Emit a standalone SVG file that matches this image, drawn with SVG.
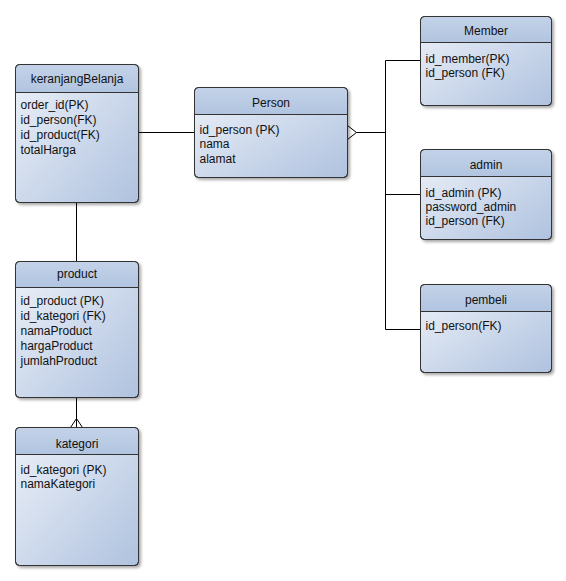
<svg xmlns="http://www.w3.org/2000/svg" width="566" height="581" viewBox="0 0 566 581">
  <defs>
    <linearGradient id="bodyFill" x1="0" y1="0" x2="1" y2="1">
      <stop offset="0" stop-color="#eef2f9"/>
      <stop offset="1" stop-color="#afc2df"/>
    </linearGradient>
    <linearGradient id="headFill" x1="0" y1="0" x2="0" y2="1">
      <stop offset="0" stop-color="#c3d2e8"/>
      <stop offset="1" stop-color="#b1c4e0"/>
    </linearGradient>
    <filter id="shadow" x="-10%" y="-10%" width="125%" height="125%">
      <feGaussianBlur in="SourceAlpha" stdDeviation="1.5"/>
      <feOffset dx="2" dy="2" result="b"/>
      <feComponentTransfer><feFuncA type="linear" slope="0.35"/></feComponentTransfer>
      <feMerge><feMergeNode/><feMergeNode in="SourceGraphic"/></feMerge>
    </filter>
  </defs>
  <style>
    .body { fill: url(#bodyFill); stroke: #333; stroke-width: 1; }
    .head { fill: url(#headFill); stroke: none; }
    .div { stroke: #333; stroke-width: 1; }
    .edge { stroke: #000; stroke-width: 1; fill: none; }
    text { font-family: "Liberation Sans", Arial, sans-serif; font-size: 12px; fill: #111; }
    .title { text-anchor: middle; }
  </style>
  <rect width="566" height="581" fill="#fff"/>
  <g transform="translate(0.5,0.5)">
    <g id="connectors">
      <path class="edge" d="M138,132 H194"/>
      <path class="edge" d="M76,202 V261"/>
      <path class="edge" d="M76,397 V427 M70,427 L76,418 L82,427"/>
      <path class="edge" d="M347,125 L356,132 L347,139 M356,132 H385"/>
      <path class="edge" d="M385,60 V329 M385,60 H420 M385,194 H420 M385,329 H420"/>
    </g>

    <g id="keranjangBelanja">
      <rect class="body" x="15" y="64" width="123" height="138" rx="4" filter="url(#shadow)"/>
      <path class="head" d="M15.5,92 V68 Q15.5,64.5 19,64.5 H134 Q137.5,64.5 137.5,68 V92 Z"/>
      <path class="div" d="M15,92 H138"/>
      <rect x="15" y="64" width="123" height="138" rx="4" fill="none" stroke="#333"/>
      <text class="title" x="76.5" y="82">keranjangBelanja</text>
      <text x="20" y="108">order_id(PK)</text>
      <text x="20" y="123">id_person(FK)</text>
      <text x="20" y="138">id_product(FK)</text>
      <text x="20" y="153">totalHarga</text>
    </g>

    <g id="product">
      <rect class="body" x="15" y="261" width="123" height="136" rx="4" filter="url(#shadow)"/>
      <path class="head" d="M15.5,287 V265 Q15.5,261.5 19,261.5 H134 Q137.5,261.5 137.5,265 V287 Z"/>
      <path class="div" d="M15,287 H138"/>
      <rect x="15" y="261" width="123" height="136" rx="4" fill="none" stroke="#333"/>
      <text class="title" x="76.5" y="277">product</text>
      <text x="20" y="304">id_product (PK)</text>
      <text x="20" y="319">id_kategori (FK)</text>
      <text x="20" y="334">namaProduct</text>
      <text x="20" y="349">hargaProduct</text>
      <text x="20" y="364">jumlahProduct</text>
    </g>

    <g id="kategori">
      <rect class="body" x="15" y="427" width="123" height="138" rx="4" filter="url(#shadow)"/>
      <path class="head" d="M15.5,454 V431 Q15.5,427.5 19,427.5 H134 Q137.5,427.5 137.5,431 V454 Z"/>
      <path class="div" d="M15,454 H138"/>
      <rect x="15" y="427" width="123" height="138" rx="4" fill="none" stroke="#333"/>
      <text class="title" x="76.5" y="447">kategori</text>
      <text x="20" y="473">id_kategori (PK)</text>
      <text x="20" y="487">namaKategori</text>
    </g>

    <g id="Person">
      <rect class="body" x="194" y="87" width="153" height="90" rx="4" filter="url(#shadow)"/>
      <path class="head" d="M194.5,114 V91 Q194.5,87.5 198,87.5 H343 Q346.5,87.5 346.5,91 V114 Z"/>
      <path class="div" d="M194,114 H347"/>
      <rect x="194" y="87" width="153" height="90" rx="4" fill="none" stroke="#333"/>
      <text class="title" x="270.5" y="106">Person</text>
      <text x="199" y="133">id_person (PK)</text>
      <text x="199" y="147">nama</text>
      <text x="199" y="162">alamat</text>
    </g>

    <g id="Member">
      <rect class="body" x="420" y="16" width="131" height="89" rx="4" filter="url(#shadow)"/>
      <path class="head" d="M420.5,42 V20 Q420.5,16.5 424,16.5 H547 Q550.5,16.5 550.5,20 V42 Z"/>
      <path class="div" d="M420,42 H551"/>
      <rect x="420" y="16" width="131" height="89" rx="4" fill="none" stroke="#333"/>
      <text class="title" x="485.5" y="34">Member</text>
      <text x="425" y="62">id_member(PK)</text>
      <text x="425" y="76">id_person (FK)</text>
    </g>

    <g id="admin">
      <rect class="body" x="420" y="149" width="131" height="90" rx="4" filter="url(#shadow)"/>
      <path class="head" d="M420.5,176 V153 Q420.5,149.5 424,149.5 H547 Q550.5,149.5 550.5,153 V176 Z"/>
      <path class="div" d="M420,176 H551"/>
      <rect x="420" y="149" width="131" height="90" rx="4" fill="none" stroke="#333"/>
      <text class="title" x="485.5" y="168">admin</text>
      <text x="425" y="196">id_admin (PK)</text>
      <text x="425" y="210">password_admin</text>
      <text x="425" y="224">id_person (FK)</text>
    </g>

    <g id="pembeli">
      <rect class="body" x="420" y="284" width="131" height="88" rx="4" filter="url(#shadow)"/>
      <path class="head" d="M420.5,311 V288 Q420.5,284.5 424,284.5 H547 Q550.5,284.5 550.5,288 V311 Z"/>
      <path class="div" d="M420,311 H551"/>
      <rect x="420" y="284" width="131" height="88" rx="4" fill="none" stroke="#333"/>
      <text class="title" x="485.5" y="303">pembeli</text>
      <text x="425" y="329">id_person(FK)</text>
    </g>
  </g>
</svg>
